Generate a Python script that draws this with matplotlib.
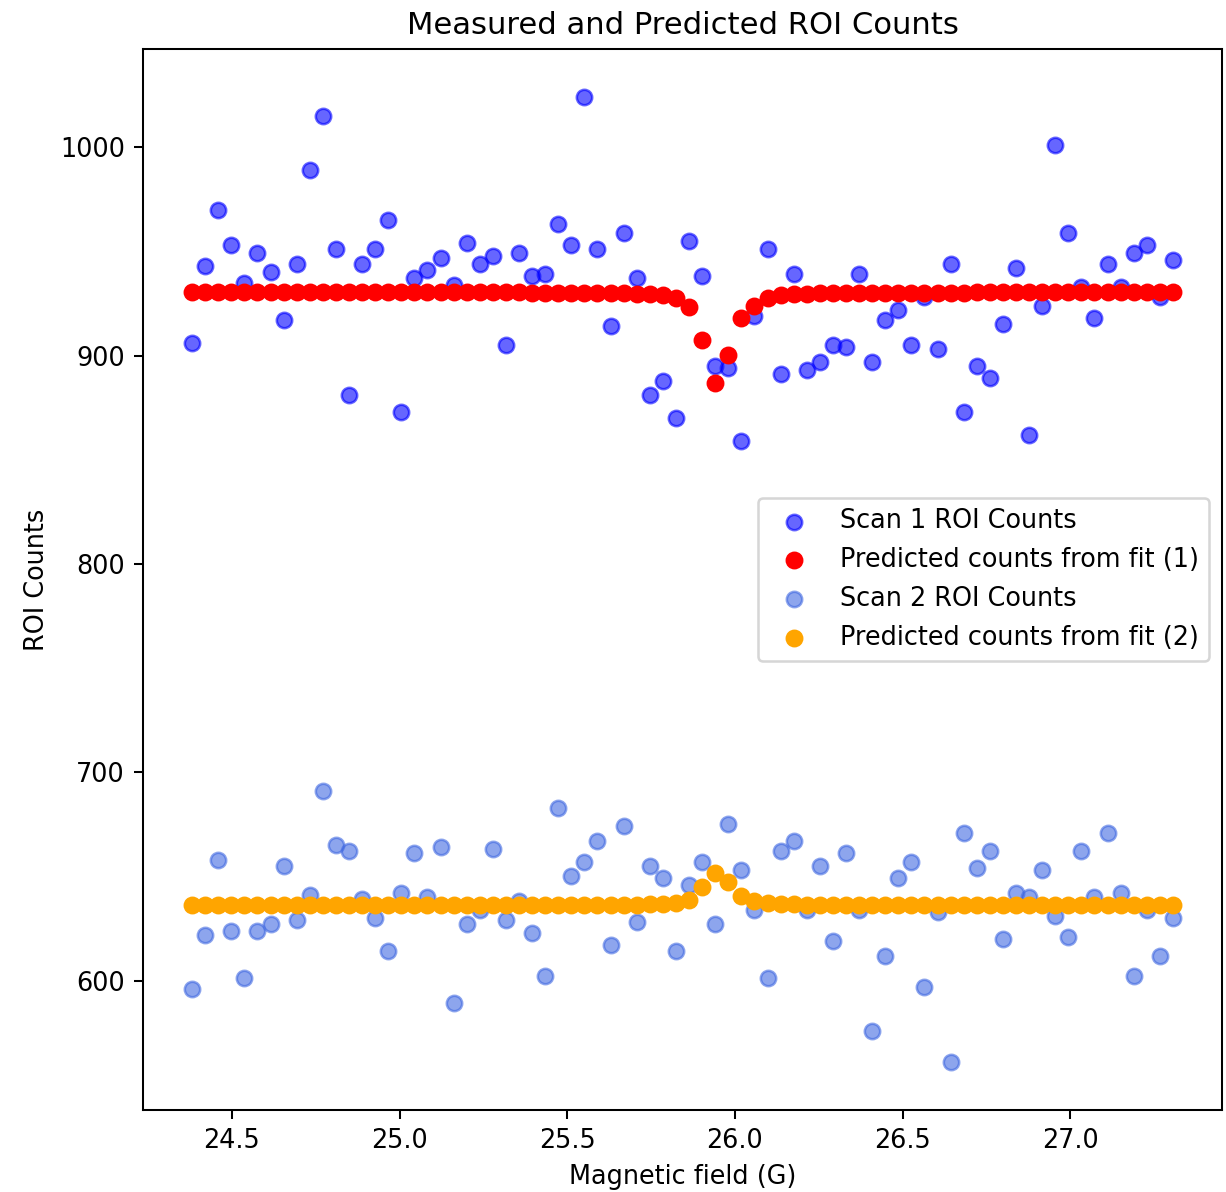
import matplotlib
matplotlib.use("Agg")
import matplotlib.pyplot as plt

# magnetic field grid (G), 76 points shared by both scans
field = [24.381, 24.420, 24.459, 24.498, 24.537, 24.576, 24.615, 24.654,
         24.693, 24.732, 24.771, 24.810, 24.849, 24.888, 24.927, 24.966,
         25.005, 25.044, 25.083, 25.122, 25.161, 25.200, 25.239, 25.278,
         25.317, 25.356, 25.395, 25.434, 25.473, 25.512, 25.551, 25.590,
         25.629, 25.668, 25.707, 25.746, 25.785, 25.824, 25.863, 25.902,
         25.941, 25.980, 26.019, 26.058, 26.097, 26.136, 26.175, 26.214,
         26.253, 26.292, 26.331, 26.370, 26.409, 26.448, 26.487, 26.526,
         26.565, 26.604, 26.643, 26.682, 26.721, 26.760, 26.799, 26.838,
         26.877, 26.916, 26.955, 26.994, 27.033, 27.072, 27.111, 27.150,
         27.189, 27.228, 27.267, 27.306]

scan1 = [906, 943, 970, 953, 935, 949, 940, 917, 944, 989, 1015, 951,
         881, 944, 951, 965, 873, 937, 941, 947, 934, 954, 944, 948,
         905, 949, 938, 939, 963, 953, 1024, 951, 914, 959, 937, 881,
         888, 870, 955, 938, 895, 894, 859, 919, 951, 891, 939, 893,
         897, 905, 904, 939, 897, 917, 922, 905, 928, 903, 944, 873,
         895, 889, 915, 942, 862, 924, 1001, 959, 933, 918, 944, 933,
         949, 953, 928, 946]

fit1 = [930.3, 930.3, 930.3, 930.3, 930.3, 930.3, 930.3, 930.3, 930.3, 930.3,
        930.3, 930.3, 930.3, 930.3, 930.3, 930.3, 930.3, 930.3, 930.3, 930.3,
        930.3, 930.3, 930.3, 930.3, 930.3, 930.3, 930.2, 930.2, 930.1, 930.1,
        930.0, 930.0, 929.9, 929.8, 929.7, 929.5, 929.0, 927.4, 923.1, 907.4,
        886.8, 900.2, 917.8, 923.9, 927.4, 929.0, 929.5, 929.7, 929.8, 929.9,
        930.0, 930.0, 930.1, 930.1, 930.1, 930.2, 930.2, 930.2, 930.2, 930.2,
        930.3, 930.3, 930.3, 930.3, 930.3, 930.3, 930.3, 930.3, 930.3, 930.3,
        930.3, 930.3, 930.3, 930.3, 930.3, 930.3]

scan2 = [596, 622, 658, 624, 601, 624, 627, 655, 629, 641, 691, 665,
         662, 639, 630, 614, 642, 661, 640, 664, 589, 627, 634, 663,
         629, 638, 623, 602, 683, 650, 657, 667, 617, 674, 628, 655,
         649, 614, 646, 657, 627, 675, 653, 634, 601, 662, 667, 634,
         655, 619, 661, 634, 576, 612, 649, 657, 597, 633, 561, 671,
         654, 662, 620, 642, 640, 653, 631, 621, 662, 640, 671, 642,
         602, 634, 612, 630]

fit2 = [636.1, 636.1, 636.1, 636.1, 636.1, 636.1, 636.1, 636.1, 636.1, 636.1,
        636.1, 636.1, 636.1, 636.1, 636.1, 636.1, 636.1, 636.1, 636.1, 636.1,
        636.1, 636.1, 636.1, 636.1, 636.1, 636.1, 636.1, 636.1, 636.2, 636.2,
        636.2, 636.2, 636.3, 636.3, 636.4, 636.5, 636.6, 637.0, 638.6, 644.9,
        651.8, 647.5, 640.5, 638.1, 637.0, 636.6, 636.5, 636.4, 636.3, 636.3,
        636.2, 636.2, 636.2, 636.2, 636.1, 636.1, 636.1, 636.1, 636.1, 636.1,
        636.1, 636.1, 636.1, 636.1, 636.1, 636.1, 636.1, 636.1, 636.1, 636.1,
        636.1, 636.1, 636.1, 636.1, 636.1, 636.1]

DPI = 184
fig = plt.figure(figsize=(1226 / DPI, 1192 / DPI), dpi=DPI)
ax = fig.add_axes([143 / 1226, 1 - 1110 / 1192, (1222 - 143) / 1226, (1110 - 49) / 1192])

ax.scatter(field, scan1, color='blue', alpha=0.6, label='Scan 1 ROI Counts')
ax.scatter(field, fit1, color='red', label='Predicted counts from fit (1)')
ax.scatter(field, scan2, color='royalblue', alpha=0.6, label='Scan 2 ROI Counts')
ax.scatter(field, fit2, color='orange', label='Predicted counts from fit (2)')

ax.set_title('Measured and Predicted ROI Counts')
ax.set_xlabel('Magnetic field (G)')
ax.set_ylabel('ROI Counts')
ax.legend(loc='center right')

fig.savefig('out.png', dpi=DPI)
